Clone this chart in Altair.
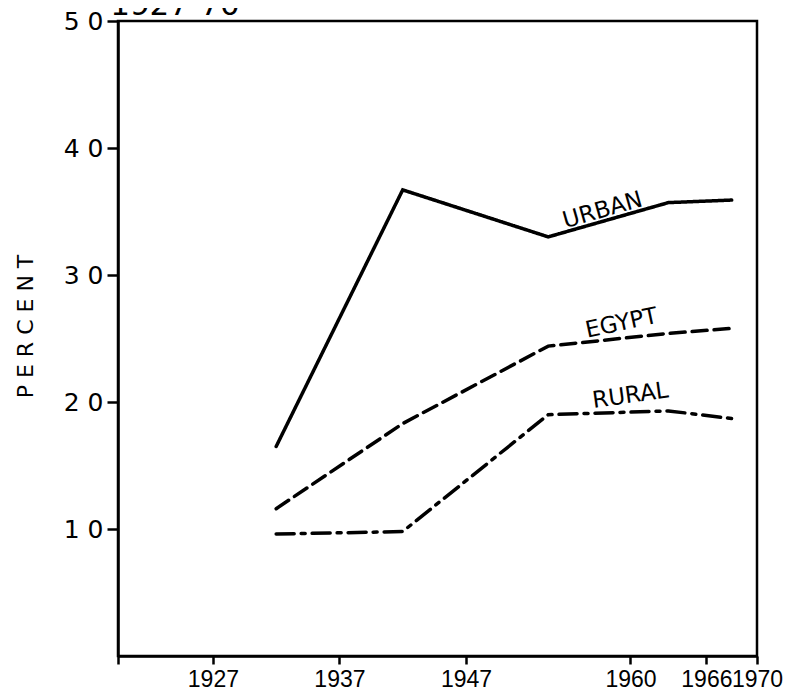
import altair as alt
import pandas as pd

# ---- data ----
years = [1932, 1942, 1953.5, 1963, 1968]
urban = [16.5, 36.7, 33.0, 35.7, 35.9]
egypt = [11.6, 18.3, 24.4, 25.4, 25.8]
rural = [9.6, 9.8, 19.0, 19.3, 18.7]
series_names = ["URBAN", "EGYPT", "RURAL"]

x_ticks = [1927, 1937, 1947, 1960, 1966, 1970]
y_ticks = [10, 20, 30, 40, 50]

label_year = [1957.8, 1959.3, 1960.0]
label_value = [35.1, 26.2, 20.5]

title_text = "1927-70"
title_year = [1924.0]
title_value = [50.5]

# ---- tables ----
rows = []
for name, vals in zip(series_names, [urban, egypt, rural]):
    for yr, v in zip(years, vals):
        rows.append({"series": name, "year": yr, "value": v})
df = pd.DataFrame(rows)

labels = pd.DataFrame({"series": series_names, "year": label_year, "value": label_value})
title_df = pd.DataFrame({"t": [title_text], "year": title_year, "value": title_value})

NFONT = "Liberation Sans, sans-serif"
LFONT = "DejaVu Sans, sans-serif"

xscale = alt.Scale(domain=[1919.5, 1970], nice=False, zero=False)
yscale = alt.Scale(domain=[0, 50], nice=False)

base = alt.Chart(df)

lines = base.mark_line(color="black", strokeWidth=3.5, strokeCap="round", strokeJoin="miter").encode(
    x=alt.X("year:Q", scale=xscale,
            axis=alt.Axis(values=[1919.5] + x_ticks, format="d", title=None, grid=False,
                          labelExpr="datum.value < 1920 ? '' : datum.label",
                          tickSize=8, tickWidth=2.5, tickColor="black",
                          domainColor="black", domainWidth=2.5,
                          labelFont=NFONT, labelFontSize=23, labelColor="black",
                          labelPadding=4, labelFlush=False, labelOverlap=False)),
    y=alt.Y("value:Q", scale=yscale,
            axis=alt.Axis(values=y_ticks, title="P E R C E N T", grid=False,
                          labelExpr="substring(datum.label,0,1) + ' ' + substring(datum.label,1)",
                          tickSize=11, tickWidth=2.5, tickColor="black",
                          domainColor="black", domainWidth=2.5,
                          labelFont=LFONT, labelFontSize=25, labelColor="black",
                          labelPadding=4,
                          titleFont=LFONT, titleFontSize=22, titleFontWeight="normal",
                          titleColor="black", titleAngle=270, titleX=-93, titleY=305,
                          titleAlign="center", titleBaseline="middle")),
    strokeDash=alt.StrokeDash("series:N",
                              scale=alt.Scale(domain=series_names,
                                              range=[[1, 0], [15, 7], [18, 7, 4, 7]]),
                              legend=None),
    detail="series:N",
)

text_labels = alt.Chart(labels).mark_text(font=LFONT, fontSize=23, color="black",
                                          baseline="middle", align="center").encode(
    x=alt.X("year:Q", scale=xscale),
    y=alt.Y("value:Q", scale=yscale),
    text="series:N",
    angle=alt.Angle("series:N", scale=alt.Scale(domain=series_names, range=[344, 352, 0]), legend=None),
)

title_mark = alt.Chart(title_df).mark_text(font=LFONT, fontSize=31, color="black",
                                           baseline="alphabetic", align="center").encode(
    x=alt.X("year:Q", scale=xscale),
    y=alt.Y("value:Q", scale=yscale),
    text="t:N",
)

chart = alt.layer(lines, text_labels, title_mark).properties(
    width=639, height=635,
    autosize=alt.AutoSizeParams(type="none"),
    padding={"left": 110, "top": 13, "right": 30, "bottom": 36},
    background="white",
).configure_view(stroke="black", strokeWidth=2.5)

chart.save("out.html", embed_options={"renderer": "svg", "actions": False})
